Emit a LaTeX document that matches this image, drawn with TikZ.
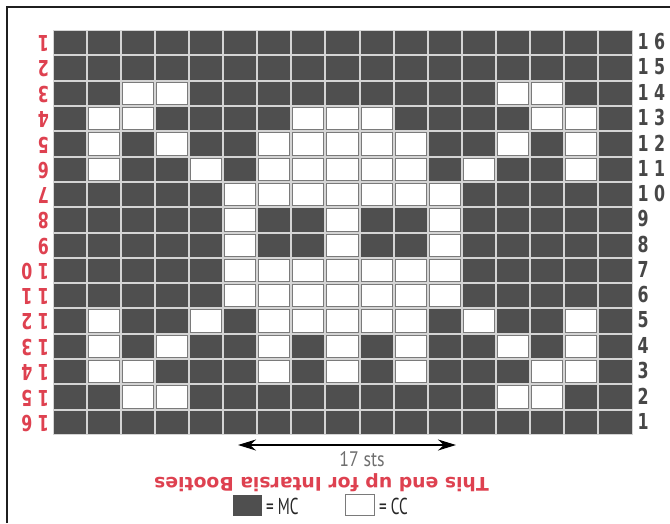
\documentclass[tikz,border=0pt]{standalone}
\usepackage{fontspec}
\setmainfont{PT Sans}
\newfontfamily\labfont[FakeStretch=0.72]{DejaVu Sans}
\newfontfamily\stsfont[FakeStretch=0.85]{PT Sans}
\newfontfamily\capfont{DejaVu Sans}
\newfontfamily\legfont[FakeStretch=0.66]{PT Sans}
\usetikzlibrary{arrows.meta}
\definecolor{mc}{HTML}{4F4F4F}
\definecolor{gridc}{HTML}{D4D4D4}
\definecolor{ccedge}{HTML}{7A7A7A}
\definecolor{redl}{HTML}{DE4150}
\definecolor{numc}{HTML}{474747}
\definecolor{stsc}{HTML}{6E6E6E}
\tikzset{
  mccell/.style={fill=mc},
  cccell/.style={fill=white,draw=ccedge,line width=0.9pt},
  rnum/.style={anchor=west,inner sep=0pt,text=numc,font=\labfont\bfseries\fontsize{22}{22}\selectfont},
  lnum/.style={anchor=west,rotate=180,inner sep=0pt,text=redl,font=\labfont\bfseries\fontsize{22}{22}\selectfont},
  legbox/.style={minimum width=29pt,minimum height=21pt,inner sep=0pt},
  legtxt/.style={anchor=west,inner sep=0pt,text=black!85,font=\legfont\fontsize{23}{23}\selectfont},
}
\begin{document}
\begin{tikzpicture}[x=1pt,y=-1pt]
\useasboundingbox (0,0) rectangle (670,523);
% frame
\draw[line width=2pt,black!88] (7,523) -- (7,6.7) -- (670,6.7);
% grid background
\fill[gridc] (52.5,30) rectangle (632.5,435);
\def\cw{34.118}
\def\rh{25.3125}
\foreach \r in {1,...,16}{
  \foreach \c in {1,...,17}{
    \fill[mccell] ({52.5+(\c-1)*\cw+1},{30+(\r-1)*\rh+1}) rectangle ({52.5+\c*\cw-1},{30+\r*\rh-1});
  }
}
\foreach \r/\cols in {3/{3,4,14,15},4/{2,3,8,9,10,15,16},5/{2,4,7,8,9,10,11,14,16},
  6/{2,5,7,8,9,10,11,13,16},7/{6,7,8,9,10,11,12},8/{6,9,12},9/{6,9,12},
  10/{6,7,8,9,10,11,12},11/{6,7,8,9,10,11,12},12/{2,5,7,8,9,10,11,13,16},
  13/{2,4,7,9,11,14,16},14/{2,3,7,9,11,15,16},15/{3,4,14,15}}{
  \foreach \c in \cols{
    \filldraw[cccell] ({52.5+(\c-1)*\cw+1.5},{30+(\r-1)*\rh+1.5}) rectangle ({52.5+\c*\cw-1.5},{30+\r*\rh-1.5});
  }
}
% right row numbers
\foreach \r/\t in {1/1 6,2/1 5,3/1 4,4/1 3,5/1 2,6/1 1,7/1 0,8/9,9/8,10/7,11/6,12/5,13/4,14/3,15/2,16/1}{
  \node[rnum] (rr\r) at (637.5,{30+(\r-0.5)*\rh-1}) {\t};
}
% left row numbers (upside down)
\foreach \r/\t in {1/1,2/2,3/3,4/4,5/5,6/6,7/7,8/8,9/9,10/1 0,11/1 1,12/1 2,13/1 3,14/1 4,15/1 5,16/1 6}{
  \node[lnum] (ll\r) at (49,{30+(\r-0.5)*\rh+1}) {\t};
}
% width arrow
\coordinate (al) at (238,445);
\coordinate (ar) at (456,445);
\draw[line width=2pt,{Stealth[length=18pt,width=11pt]}-{Stealth[length=18pt,width=11pt]}] (al) -- (ar);
\node[inner sep=0pt,text=stsc,font=\stsfont\fontsize{21}{21}\selectfont] (sts) at (362,459) {17 sts};
% upside down caption
\node[rotate=180,inner sep=0pt,text=redl,font=\capfont\bfseries\fontsize{18.8}{18.8}\selectfont] (cap) at (321.5,483) {This end up for Intarsia Booties};
% legend
\node[legbox,fill=mc] (mcbox) at (247.2,505.3) {};
\node[legtxt] (mctxt) at (266,506) {= MC};
\node[legbox,fill=white,draw=ccedge,line width=0.9pt] (ccbox) at (360,505.3) {};
\node[legtxt] (cctxt) at (379,506) {= CC};
\end{tikzpicture}
\end{document}
